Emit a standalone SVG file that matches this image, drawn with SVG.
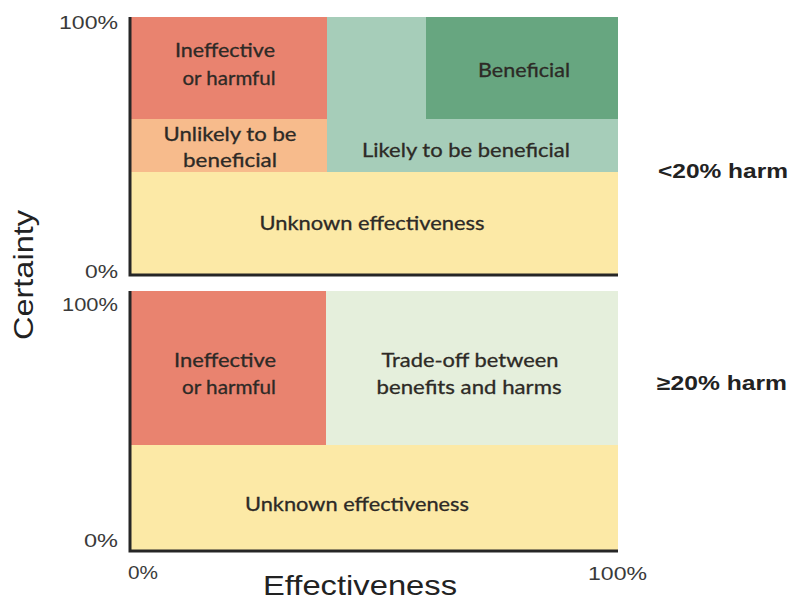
<svg xmlns="http://www.w3.org/2000/svg" width="796" height="604" viewBox="0 0 796 604">
<style>
.box{font-family:Lato,"Open Sans","Noto Sans",sans-serif;font-size:19px;fill:#2d2a26;stroke:#2d2a26;stroke-width:0.3;text-anchor:middle}
.tick{font-family:"Liberation Sans",Arial,sans-serif;font-size:18px;fill:#3a3a3a;text-anchor:end}
.title{font-family:"Liberation Sans",Arial,sans-serif;font-size:28px;fill:#222;text-anchor:middle}
.harm{font-family:"Liberation Sans",Arial,sans-serif;font-size:20px;font-weight:bold;fill:#222}
.axis{stroke:#262626;stroke-width:3;fill:none}
</style>
<rect width="796" height="604" fill="#ffffff"/>

<g id="top-panel">
  <g id="top-unknown"><rect x="130" y="172" width="488" height="103" fill="#fce9a6"/>
    <text class="box" x="372" y="230" textLength="225" lengthAdjust="spacingAndGlyphs">Unknown effectiveness</text></g>
  <g id="top-likely"><rect x="327" y="17" width="291" height="155" fill="#a6cdb9"/>
    <text class="box" x="466" y="157" textLength="208" lengthAdjust="spacingAndGlyphs">Likely to be beneficial</text></g>
  <g id="top-beneficial"><rect x="426" y="17" width="192" height="102" fill="#67a680"/>
    <text class="box" x="524" y="77" textLength="92" lengthAdjust="spacingAndGlyphs">Beneficial</text></g>
  <g id="top-unlikely"><rect x="130" y="119" width="197" height="53" fill="#f7bb8c"/>
    <text class="box" x="230" y="141" textLength="133" lengthAdjust="spacingAndGlyphs">Unlikely to be</text>
    <text class="box" x="230" y="167" textLength="94" lengthAdjust="spacingAndGlyphs">beneficial</text></g>
  <g id="top-ineffective"><rect x="130" y="17" width="197" height="102" fill="#e9836f"/>
    <text class="box" x="225" y="57" textLength="100" lengthAdjust="spacingAndGlyphs">Ineffective</text>
    <text class="box" x="229" y="85" textLength="93" lengthAdjust="spacingAndGlyphs">or harmful</text></g>
</g>

<g id="bottom-panel">
  <g id="bottom-unknown"><rect x="130" y="445" width="488" height="106" fill="#fce9a6"/>
    <text class="box" x="357" y="511" textLength="224" lengthAdjust="spacingAndGlyphs">Unknown effectiveness</text></g>
  <g id="bottom-tradeoff"><rect x="326" y="291" width="292" height="154" fill="#e5efdc"/>
    <text class="box" x="470" y="367" textLength="177" lengthAdjust="spacingAndGlyphs">Trade-off between</text>
    <text class="box" x="469" y="394" textLength="185" lengthAdjust="spacingAndGlyphs">benefits and harms</text></g>
  <g id="bottom-ineffective"><rect x="130" y="291" width="196" height="154" fill="#e9836f"/>
    <text class="box" x="225" y="367" textLength="102" lengthAdjust="spacingAndGlyphs">Ineffective</text>
    <text class="box" x="229" y="394" textLength="94" lengthAdjust="spacingAndGlyphs">or harmful</text></g>
</g>

<g id="axes">
  <path class="axis" d="M130,17 V275 H618"/>
  <path class="axis" d="M130,291 V551 H618"/>
</g>

<g id="labels">
  <text class="tick" x="118" y="29" textLength="59" lengthAdjust="spacingAndGlyphs">100%</text>
  <text class="tick" x="118" y="278" textLength="33" lengthAdjust="spacingAndGlyphs">0%</text>
  <text class="tick" x="118" y="311" textLength="56" lengthAdjust="spacingAndGlyphs">100%</text>
  <text class="tick" x="118" y="547" textLength="34" lengthAdjust="spacingAndGlyphs">0%</text>
  <text class="tick" x="158" y="579" textLength="30" lengthAdjust="spacingAndGlyphs">0%</text>
  <text class="tick" x="647" y="580" textLength="59" lengthAdjust="spacingAndGlyphs">100%</text>
  <text class="title" x="360" y="595" textLength="194" lengthAdjust="spacingAndGlyphs">Effectiveness</text>
  <text class="title" transform="translate(33,275) rotate(-90)" x="0" y="0" textLength="130" lengthAdjust="spacingAndGlyphs">Certainty</text>
  <text class="harm" x="658" y="178" textLength="130" lengthAdjust="spacingAndGlyphs">&lt;20%  harm</text>
  <text class="harm" x="657" y="390" textLength="130" lengthAdjust="spacingAndGlyphs">≥20%  harm</text>
</g>
</svg>
